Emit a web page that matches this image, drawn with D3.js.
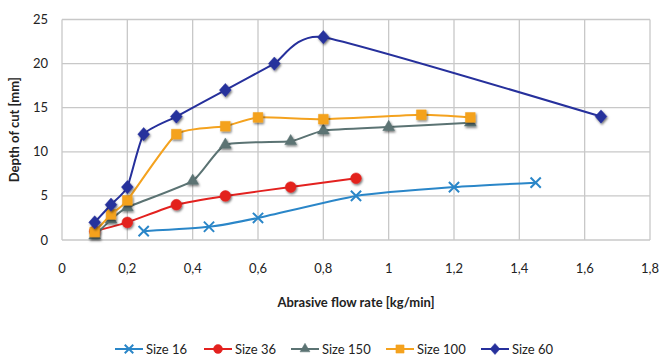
<!DOCTYPE html>
<html>
<head>
<meta charset="utf-8">
<script src="https://cdn.jsdelivr.net/npm/d3@7"></script>
<style>
  body { margin: 0; background: #fff; }
  text { font-family: Lato, "Open Sans", sans-serif; fill: #222; }
</style>
</head>
<body>
<div id="chart"></div>
<script>
// Datos
const seriesNames = ["Size 16", "Size 36", "Size 150", "Size 100", "Size 60"];
const size16 = [[0.25, 1], [0.45, 1.5], [0.6, 2.5], [0.9, 5], [1.2, 6], [1.45, 6.5]];
const size36 = [[0.1, 1], [0.2, 2], [0.35, 4], [0.5, 5], [0.7, 6], [0.9, 7]];
const size150 = [[0.1, 0.5], [0.15, 2.3], [0.2, 3.7], [0.4, 6.7], [0.5, 10.8], [0.7, 11.2], [0.8, 12.4], [1.0, 12.8], [1.25, 13.3]];
const size100 = [[0.1, 0.9], [0.15, 2.9], [0.2, 4.5], [0.35, 12], [0.5, 12.9], [0.6, 13.9], [0.8, 13.7], [1.1, 14.2], [1.25, 13.9]];
const size60 = [[0.1, 2], [0.15, 4], [0.2, 6], [0.25, 12], [0.35, 14], [0.5, 17], [0.65, 20], [0.8, 23], [1.65, 14]];
const xTicks = [0, 0.2, 0.4, 0.6, 0.8, 1, 1.2, 1.4, 1.6, 1.8];
const yTicks = [0, 5, 10, 15, 20, 25];

const colors = ["#2a86c8", "#e3211f", "#5b7373", "#f4a21e", "#26309c"];
const allData = [size16, size36, size150, size100, size60];

// Marcador rombo más ancho que el de d3
const diamond = {
  draw(ctx, size) {
    const w = Math.sqrt(size) * 0.62, h = Math.sqrt(size) * 0.7;
    ctx.moveTo(0, -h); ctx.lineTo(w, 0); ctx.lineTo(0, h); ctx.lineTo(-w, 0); ctx.closePath();
  }
};
const symbols = [d3.symbolX, d3.symbolCircle, d3.symbolTriangle, d3.symbolSquare, diamond];
const symSizes = [70, 90, 60, 95, 90];

const width = 659, height = 361;
const margin = { left: 62, right: 9, top: 19.5, bottom: 121 };

const svg = d3.select("#chart").append("svg")
  .attr("width", width).attr("height", height);

// Sombra de los marcadores
const defs = svg.append("defs");
defs.append("filter").attr("id", "shadow")
  .attr("x", "-50%").attr("y", "-50%").attr("width", "200%").attr("height", "200%")
  .append("feDropShadow")
  .attr("dx", 1).attr("dy", 1.5).attr("stdDeviation", 0.8)
  .attr("flood-color", "#000").attr("flood-opacity", 0.55);

const x = d3.scaleLinear().domain([0, 1.8]).range([margin.left, width - margin.right]);
const y = d3.scaleLinear().domain([0, 25]).range([height - margin.bottom, margin.top]);
const fmt = d => String(d).replace(".", ",");

// Rejilla
svg.append("g").selectAll("line").data(xTicks).join("line")
  .attr("x1", d => x(d)).attr("x2", d => x(d))
  .attr("y1", y(0)).attr("y2", y(25))
  .attr("stroke", "#c8c8c8").attr("stroke-width", 1.3);
svg.append("g").selectAll("line").data(yTicks).join("line")
  .attr("x1", x(0)).attr("x2", x(1.8))
  .attr("y1", d => y(d)).attr("y2", d => y(d))
  .attr("stroke", "#c8c8c8").attr("stroke-width", 1.3);

// Etiquetas de los ejes
svg.append("g").selectAll("text").data(xTicks).join("text")
  .attr("x", d => x(d)).attr("y", 273)
  .attr("text-anchor", "middle").attr("font-size", 13)
  .text(fmt);
svg.append("g").selectAll("text").data(yTicks).join("text")
  .attr("x", 48).attr("y", d => y(d) + 4.5)
  .attr("text-anchor", "end").attr("font-size", 13)
  .text(d => d);

svg.append("text")
  .attr("x", (x(0) + x(1.8)) / 2).attr("y", 307)
  .attr("text-anchor", "middle").attr("font-size", 13).attr("font-weight", "bold")
  .text("Abrasive flow rate [kg/min]");
svg.append("text")
  .attr("transform", `translate(19,${(y(0) + y(25)) / 2}) rotate(-90)`)
  .attr("text-anchor", "middle").attr("font-size", 13).attr("font-weight", "bold")
  .text("Depth of cut [mm]");

// Series
const line = d3.line().x(d => x(d[0])).y(d => y(d[1])).curve(d3.curveCardinal.tension(0.5));

allData.forEach((data, i) => {
  const g = svg.append("g");
  g.append("path").datum(data)
    .attr("d", line)
    .attr("fill", "none").attr("stroke", colors[i]).attr("stroke-width", 2);
  g.selectAll("path.m").data(data).join("path")
    .attr("class", "m")
    .attr("transform", d => `translate(${x(d[0])},${y(d[1])})`)
    .attr("d", d3.symbol(symbols[i], symSizes[i]))
    .attr("fill", colors[i])
    .attr("stroke", colors[i]).attr("stroke-width", i === 0 ? 2 : 0.5)
    .attr("filter", i === 0 ? null : "url(#shadow)");
});

// Leyenda
const legendX = [115, 204, 291, 386, 481];
const legend = svg.append("g");
seriesNames.forEach((name, i) => {
  const lg = legend.append("g").attr("transform", `translate(${legendX[i]},349)`);
  lg.append("line").attr("x1", 0).attr("x2", 28)
    .attr("stroke", colors[i]).attr("stroke-width", 2);
  lg.append("path").attr("transform", "translate(14,0)")
    .attr("d", d3.symbol(symbols[i], symSizes[i] * 0.7))
    .attr("fill", colors[i]).attr("stroke", colors[i]).attr("stroke-width", i === 0 ? 2 : 0.5);
  lg.append("text").attr("x", 31).attr("y", 4.5)
    .attr("font-size", 13).text(name);
});
</script>
</body>
</html>
